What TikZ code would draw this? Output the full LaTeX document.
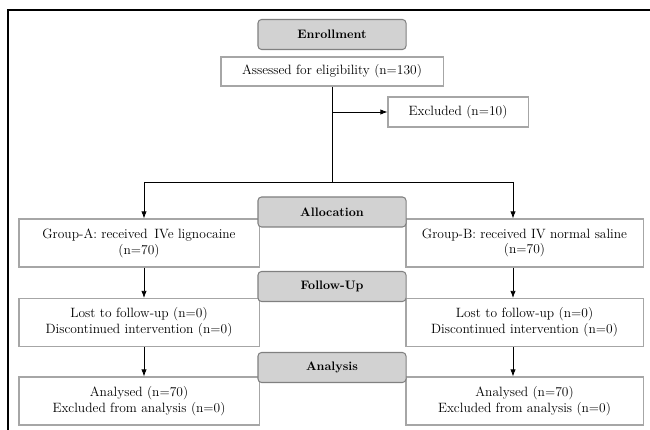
\documentclass[tikz,border=0pt]{standalone}
\usepackage{tikz}
\usetikzlibrary{calc,arrows.meta}

\begin{document}
\begin{tikzpicture}[x=0.03cm, y=-0.03cm]
    \tikzstyle{every node}=[inner sep=2, font=\fontsize{11.5}{13.5}\selectfont, align=center]
    \tikzstyle{stage}=[draw=gray, fill=gray!35, rounded corners=3, line width=.2ex, minimum width=4.44cm, minimum height=0.9cm, font=\fontsize{10.5}{12}\selectfont\bfseries]
    \tikzstyle{box}=[draw=gray!70, fill=white, line width=.2ex, minimum width=7.2cm, minimum height=1.44cm]
    \tikzstyle{arr}=[line width=.15ex, -{Latex[length=6pt, width=4.5pt]}]
    \useasboundingbox (0,0) rectangle (650,430);
    % frame on the top and left side
    \draw[line width=1.7pt] (8,430) -- (8,10) -- (650,10);
    \node[stage] (ENR) at (332,34.5) {Enrollment};
    \node[box, minimum width=6.66cm, minimum height=0.87cm] (ASS) at ($(ENR)+(0,37)$) {Assessed for eligibility (n=130)};
    \node[box, minimum width=4.2cm, minimum height=0.9cm] (EXC) at (458,112) {Excluded (n=10)};
    \node[box] (GA) at (139,243) {Group-A: received\, IVe lignocaine\\(n=70)};
    \node[box, minimum width=7.11cm] (GB) at (524.5,243) {Group-B: received IV normal saline\\(n=70)};
    \node[stage] (ALL) at (332,212) {Allocation};
    \node[box] (LOA) at ($(GA)+(0,79.5)$) {Lost to follow-up (n=0)\\Discontinued intervention (n=0)};
    \node[box, minimum width=7.11cm] (LOB) at ($(GB)+(0,79.5)$) {Lost to follow-up (n=0)\\Discontinued intervention (n=0)};
    \node[stage] (FOL) at (332,286.5) {Follow-Up};
    \node[box] (ANA) at ($(LOA)+(0,78.5)$) {Analysed (n=70)\\Excluded from analysis (n=0)};
    \node[box, minimum width=7.11cm] (ANB) at ($(LOB)+(0,78.5)$) {Analysed (n=70)\\Excluded from analysis (n=0)};
    \node[stage] (ANS) at (332,367.5) {Analysis};
    \coordinate (SPL) at ($(ASS.south)+(0,96)$);
    \coordinate (BR) at (ASS.south |- EXC.west);
    \coordinate (LA) at (144,182);
    \coordinate (LB) at (513,182);
    \draw[line width=.15ex] (ASS.south) -- (SPL);
    \draw[arr] (BR) -- (EXC.west);
    \draw[line width=.15ex] (LA) -- (LB);
    \draw[arr] (LA) -- (LA |- GA.north);
    \draw[arr] (LB) -- (LB |- GB.north);
    \draw[arr] (LA |- GA.south) -- (LA |- LOA.north);
    \draw[arr] (LB |- GB.south) -- (LB |- LOB.north);
    \draw[arr] (LA |- LOA.south) -- (LA |- ANA.north);
    \draw[arr] (LB |- LOB.south) -- (LB |- ANB.north);
\end{tikzpicture}
\end{document}
